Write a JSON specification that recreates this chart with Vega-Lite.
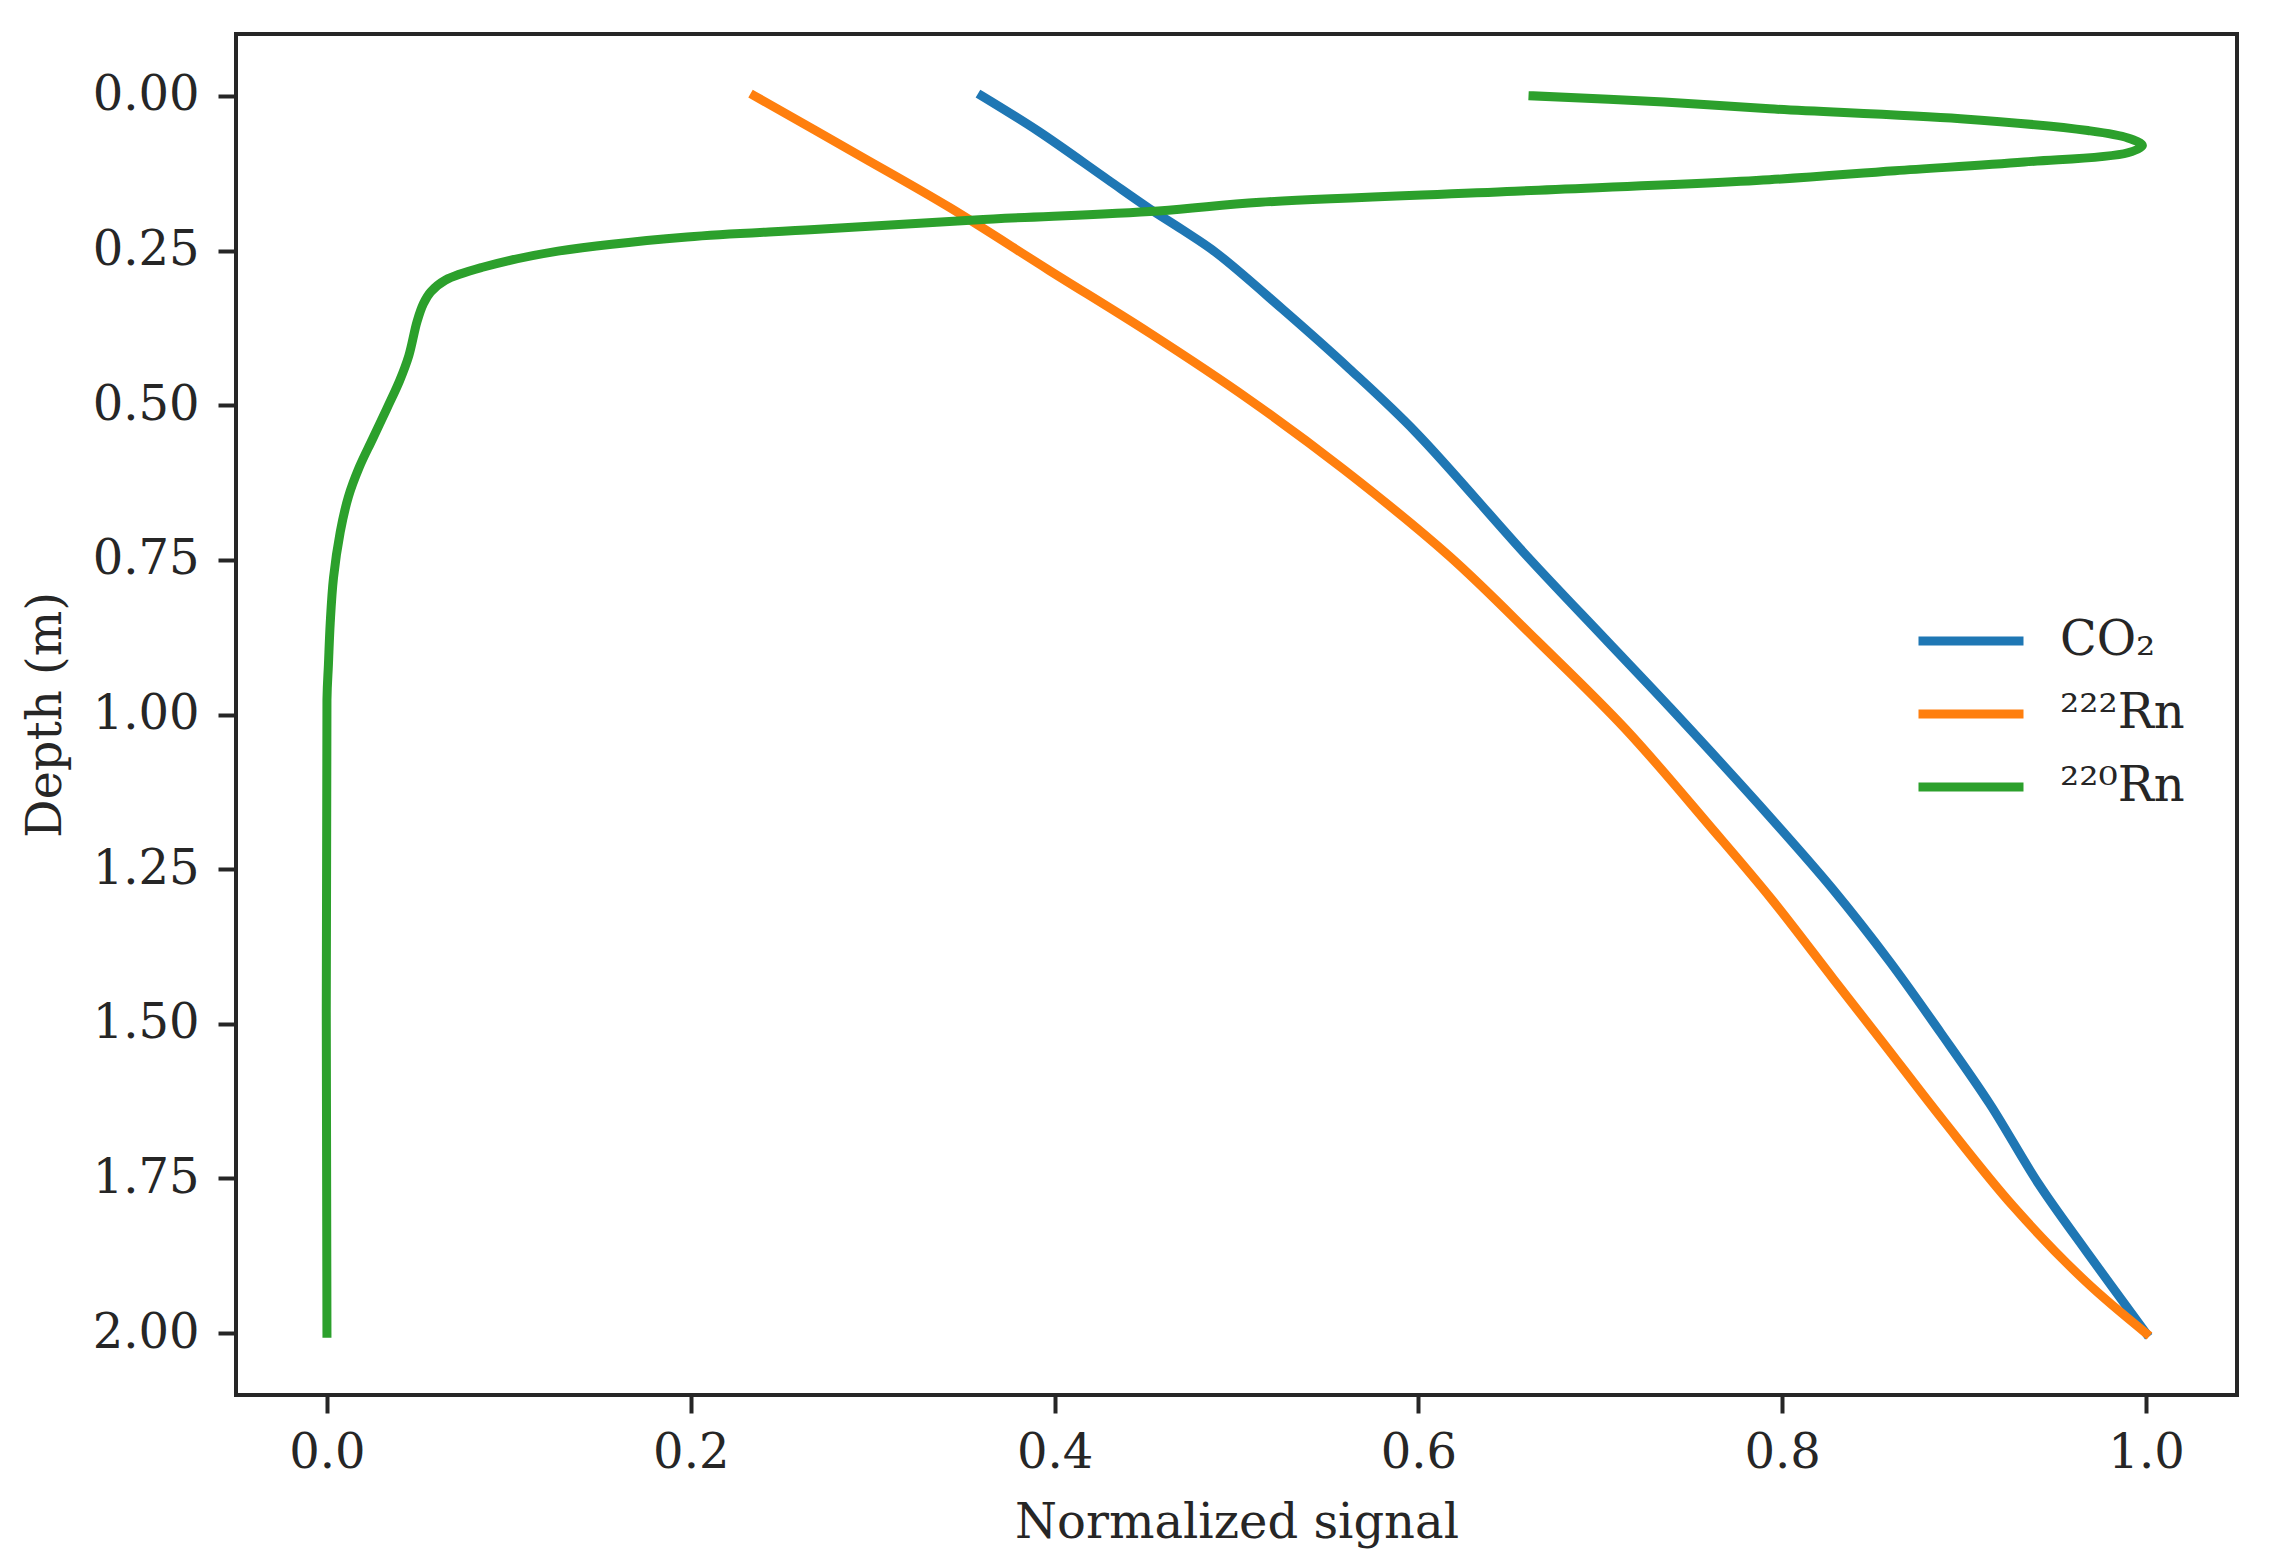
{
  "$schema": "https://vega.github.io/schema/vega-lite/v6.json",
  "width": 2001,
  "height": 1361,
  "autosize": {"type": "none"},
  "padding": {"left": 236, "top": 34, "right": 35, "bottom": 170},
  "background": "white",
  "data": {
    "values": [
      {"s": "CO₂", "i": 0, "x": 0.360, "d": 0.000},
      {"s": "CO₂", "i": 1, "x": 0.391, "d": 0.057},
      {"s": "CO₂", "i": 2, "x": 0.429, "d": 0.135},
      {"s": "CO₂", "i": 3, "x": 0.452, "d": 0.182},
      {"s": "CO₂", "i": 4, "x": 0.4705, "d": 0.217},
      {"s": "CO₂", "i": 5, "x": 0.489, "d": 0.254},
      {"s": "CO₂", "i": 6, "x": 0.525, "d": 0.344},
      {"s": "CO₂", "i": 7, "x": 0.562, "d": 0.441},
      {"s": "CO₂", "i": 8, "x": 0.599, "d": 0.545},
      {"s": "CO₂", "i": 9, "x": 0.660, "d": 0.745},
      {"s": "CO₂", "i": 10, "x": 0.703, "d": 0.879},
      {"s": "CO₂", "i": 11, "x": 0.739, "d": 0.991},
      {"s": "CO₂", "i": 12, "x": 0.794, "d": 1.168},
      {"s": "CO₂", "i": 13, "x": 0.828, "d": 1.283},
      {"s": "CO₂", "i": 14, "x": 0.859, "d": 1.399},
      {"s": "CO₂", "i": 15, "x": 0.887, "d": 1.514},
      {"s": "CO₂", "i": 16, "x": 0.914, "d": 1.629},
      {"s": "CO₂", "i": 17, "x": 0.941, "d": 1.759},
      {"s": "CO₂", "i": 18, "x": 0.967, "d": 1.867},
      {"s": "CO₂", "i": 19, "x": 1.000, "d": 2.000},
      {"s": "²²²Rn", "i": 0, "x": 0.235, "d": 0.000},
      {"s": "²²²Rn", "i": 1, "x": 0.293, "d": 0.097},
      {"s": "²²²Rn", "i": 2, "x": 0.342, "d": 0.180},
      {"s": "²²²Rn", "i": 3, "x": 0.397, "d": 0.282},
      {"s": "²²²Rn", "i": 4, "x": 0.452, "d": 0.383},
      {"s": "²²²Rn", "i": 5, "x": 0.507, "d": 0.491},
      {"s": "²²²Rn", "i": 6, "x": 0.559, "d": 0.604},
      {"s": "²²²Rn", "i": 7, "x": 0.617, "d": 0.744},
      {"s": "²²²Rn", "i": 8, "x": 0.665, "d": 0.880},
      {"s": "²²²Rn", "i": 9, "x": 0.714, "d": 1.024},
      {"s": "²²²Rn", "i": 10, "x": 0.761, "d": 1.183},
      {"s": "²²²Rn", "i": 11, "x": 0.794, "d": 1.298},
      {"s": "²²²Rn", "i": 12, "x": 0.828, "d": 1.427},
      {"s": "²²²Rn", "i": 13, "x": 0.855, "d": 1.529},
      {"s": "²²²Rn", "i": 14, "x": 0.889, "d": 1.658},
      {"s": "²²²Rn", "i": 15, "x": 0.927, "d": 1.795},
      {"s": "²²²Rn", "i": 16, "x": 0.967, "d": 1.917},
      {"s": "²²²Rn", "i": 17, "x": 1.000, "d": 2.000},
      {"s": "²²⁰Rn", "i": 0, "x": 0.663, "d": 0.000},
      {"s": "²²⁰Rn", "i": 1, "x": 0.735, "d": 0.010},
      {"s": "²²⁰Rn", "i": 2, "x": 0.793, "d": 0.021},
      {"s": "²²⁰Rn", "i": 3, "x": 0.898, "d": 0.037},
      {"s": "²²⁰Rn", "i": 4, "x": 0.968, "d": 0.056},
      {"s": "²²⁰Rn", "i": 5, "x": 0.990, "d": 0.068},
      {"s": "²²⁰Rn", "i": 6, "x": 0.998, "d": 0.080},
      {"s": "²²⁰Rn", "i": 7, "x": 0.990, "d": 0.092},
      {"s": "²²⁰Rn", "i": 8, "x": 0.933, "d": 0.107},
      {"s": "²²⁰Rn", "i": 9, "x": 0.862, "d": 0.121},
      {"s": "²²⁰Rn", "i": 10, "x": 0.793, "d": 0.1355},
      {"s": "²²⁰Rn", "i": 11, "x": 0.653, "d": 0.154},
      {"s": "²²⁰Rn", "i": 12, "x": 0.513, "d": 0.172},
      {"s": "²²⁰Rn", "i": 13, "x": 0.457, "d": 0.186},
      {"s": "²²⁰Rn", "i": 14, "x": 0.356, "d": 0.2005},
      {"s": "²²⁰Rn", "i": 15, "x": 0.268, "d": 0.216},
      {"s": "²²⁰Rn", "i": 16, "x": 0.198, "d": 0.228},
      {"s": "²²⁰Rn", "i": 17, "x": 0.127, "d": 0.251},
      {"s": "²²⁰Rn", "i": 18, "x": 0.085, "d": 0.2775},
      {"s": "²²⁰Rn", "i": 19, "x": 0.065, "d": 0.298},
      {"s": "²²⁰Rn", "i": 20, "x": 0.057, "d": 0.317},
      {"s": "²²⁰Rn", "i": 21, "x": 0.053, "d": 0.336},
      {"s": "²²⁰Rn", "i": 22, "x": 0.0495, "d": 0.365},
      {"s": "²²⁰Rn", "i": 23, "x": 0.045, "d": 0.420},
      {"s": "²²⁰Rn", "i": 24, "x": 0.040, "d": 0.460},
      {"s": "²²⁰Rn", "i": 25, "x": 0.033, "d": 0.505},
      {"s": "²²⁰Rn", "i": 26, "x": 0.025, "d": 0.555},
      {"s": "²²⁰Rn", "i": 27, "x": 0.0178, "d": 0.600},
      {"s": "²²⁰Rn", "i": 28, "x": 0.0118, "d": 0.648},
      {"s": "²²⁰Rn", "i": 29, "x": 0.0073, "d": 0.705},
      {"s": "²²⁰Rn", "i": 30, "x": 0.0036, "d": 0.779},
      {"s": "²²⁰Rn", "i": 31, "x": 0.0018, "d": 0.852},
      {"s": "²²⁰Rn", "i": 32, "x": 0.0008, "d": 0.920},
      {"s": "²²⁰Rn", "i": 33, "x": 0.0, "d": 0.976},
      {"s": "²²⁰Rn", "i": 34, "x": 0.0, "d": 2.000}
    ]
  },
  "mark": {"type": "line", "strokeWidth": 9, "strokeCap": "square", "strokeJoin": "round", "interpolate": "catmull-rom"},
  "encoding": {
    "x": {
      "field": "x",
      "type": "quantitative",
      "scale": {"domain": [-0.05, 1.05], "nice": false, "zero": false},
      "axis": {"title": "Normalized signal", "values": [0, 0.2, 0.4, 0.6, 0.8, 1.0], "format": ".1f"}
    },
    "y": {
      "field": "d",
      "type": "quantitative",
      "scale": {"domain": [-0.1, 2.1], "nice": false, "zero": false, "reverse": true},
      "axis": {"title": "Depth (m)", "values": [0, 0.25, 0.5, 0.75, 1.0, 1.25, 1.5, 1.75, 2.0], "format": ".2f"}
    },
    "color": {
      "field": "s",
      "type": "nominal",
      "scale": {"domain": ["CO₂", "²²²Rn", "²²⁰Rn"], "range": ["#1f77b4", "#ff7f0e", "#2ca02c"]},
      "legend": {
        "title": null,
        "orient": "none",
        "legendX": 1704,
        "legendY": 576,
        "symbolType": "M-2,0H2",
        "symbolSize": 2756,
        "symbolStrokeWidth": 9,
        "rowPadding": 18,
        "labelOffset": 58,
        "padding": 0
      }
    },
    "order": {"field": "i", "type": "quantitative"}
  },
  "config": {
    "view": {"stroke": "#262626", "strokeWidth": 4},
    "font": "DejaVu Serif",
    "axis": {
      "domain": false,
      "grid": false,
      "ticks": true,
      "tickColor": "#262626",
      "tickWidth": 4,
      "tickSize": 18,
      "labelFont": "DejaVu Serif",
      "labelFontSize": 48,
      "labelColor": "#262626",
      "labelPadding": 16,
      "titleFont": "DejaVu Serif",
      "titleFontSize": 48,
      "titleFontWeight": "normal",
      "titleColor": "#262626",
      "titlePadding": 22
    },
    "axisY": {"labelPadding": 19},
    "legend": {
      "labelFont": "DejaVu Serif",
      "labelFontSize": 48,
      "labelColor": "#262626",
      "labelLimit": 400
    }
  }
}
